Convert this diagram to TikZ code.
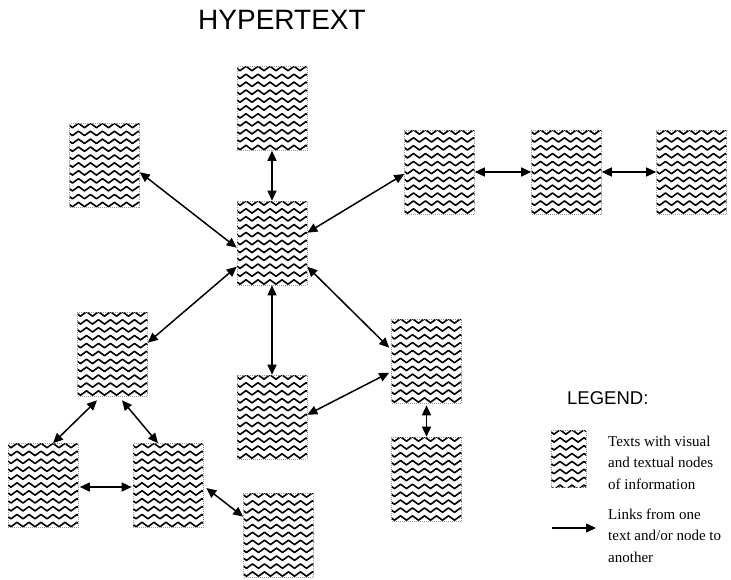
\documentclass[tikz,border=0pt]{standalone}
\usepackage{fontspec}
\setmainfont{Liberation Serif}
\newfontfamily\hsans{Liberation Sans}
\usetikzlibrary{arrows.meta,decorations.pathmorphing}

\tikzset{
  docbox/.style={draw=gray!80, dash pattern=on 1pt off 1pt, line width=0.6pt,
    minimum width=70pt, minimum height=84pt, inner sep=0pt,
    path picture={
      \foreach \k in {0,...,11}{
        \draw[black, solid, line width=1.6pt, line join=round,
          decorate, decoration={zigzag, segment length=12pt, amplitude=2.2pt}]
          ([shift={(-6pt,{-2pt-\k*7.9pt})}]path picture bounding box.north west)
          -- ([shift={(8pt,{-2pt-\k*7.9pt})}]path picture bounding box.north east);
      }
    }},
  smallbox/.style={docbox, minimum width=35pt, minimum height=57pt},
  link/.style={line width=1.5pt, {Triangle[length=10pt,width=9pt]}-{Triangle[length=10pt,width=9pt]}},
  linkone/.style={line width=1.5pt, -{Triangle[length=10pt,width=9pt]}},
  sanslabel/.style={anchor=base west, inner sep=0pt},
  legtext/.style={anchor=base west, inner sep=0pt, align=left, font=\fontsize{15}{21.4}\selectfont}
}

\begin{document}
\begin{tikzpicture}[x=1pt,y=-1pt]
\useasboundingbox (0,0) rectangle (731,579);

\node[sanslabel, font=\hsans\fontsize{28}{28}\selectfont] (title) at (198,29) {HYPERTEXT};

\node[docbox] (top) at (272,108.5) {};
\node[docbox] (ul)  at (104.5,165.5) {};
\node[docbox] (ctr) at (272,243) {};
\node[docbox] (r1)  at (439.5,172) {};
\node[docbox] (r2)  at (566.5,172) {};
\node[docbox] (r3)  at (691.5,172) {};
\node[docbox] (lm)  at (112.5,354) {};
\node[docbox] (cb)  at (272,417) {};
\node[docbox] (rm)  at (426.5,361) {};
\node[docbox] (rl)  at (426.5,479) {};
\node[docbox] (bl1) at (43,485.5) {};
\node[docbox] (bl2) at (168,485.5) {};
\node[docbox] (bot) at (278.5,535) {};

\draw[link] (top.south) -- (ctr.north);
\draw[link] ([yshift=-49pt]ul.north east) -- ([yshift=-47pt]ctr.north west);
\draw[link] ([yshift=-32pt]ctr.north east) -- ([yshift=-2pt]r1.west);
\draw[link] (r1.east) -- (r2.west);
\draw[link] (r2.east) -- (r3.west);
\draw[link] ([yshift=-66pt]ctr.north west) -- ([yshift=-31pt]lm.north east);
\draw[link] (ctr.south) -- (cb.north);
\draw[link] ([yshift=-66pt]ctr.north east) -- ([shift={(-2pt,-29pt)}]rm.north west);
\draw[link] ([shift={(-2pt,-54pt)}]rm.north west) -- ([yshift=-40pt]cb.north east);
\draw[link] ([yshift=-2pt]rm.south) -- (rl.north);
\draw[link] ([shift={(-15.5pt,-4pt)}]lm.south) -- ([xshift=10pt]bl1.north);
\draw[link] ([shift={(9.5pt,-4pt)}]lm.south) -- ([xshift=-10pt]bl2.north);
\draw[link] ([shift={(1.5pt,-1.5pt)}]bl1.east) -- ([shift={(-1pt,-1.5pt)}]bl2.west);
\draw[link] ([shift={(3pt,-2.5pt)}]bl2.east) -- ([yshift=-24pt]bot.north west);

\node[sanslabel, font=\hsans\fontsize{18.5}{18.5}\selectfont] (legend) at (567,404) {LEGEND:};
\node[smallbox] (legbox) at (568.5,458.5) {};
\node[legtext] (ltext1) at (608,489) {Texts with visual\\and textual nodes\\of information};
\coordinate (la1) at (552,528);
\coordinate (la2) at (596,528);
\draw[linkone] (la1) -- (la2);
\node[legtext] (ltext2) at (608,562) {Links from one\\text and/or node to\\another};
\end{tikzpicture}
\end{document}
